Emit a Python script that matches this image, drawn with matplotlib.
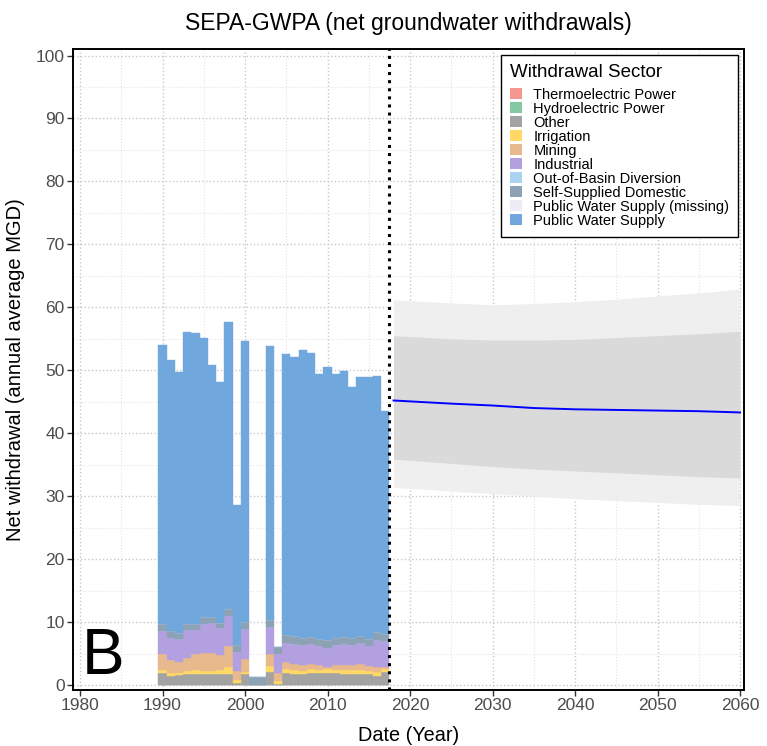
import numpy as np
import matplotlib
matplotlib.use("Agg")
import matplotlib.pyplot as plt
from matplotlib.patches import Patch
from matplotlib.ticker import MultipleLocator

plt.rcParams['font.family'] = ['Liberation Sans', 'DejaVu Sans']

# annual net groundwater withdrawals by sector (MGD)
years = list(range(1990, 2018))
thermo = [0.08] * 11 + [0, 0] + [0.08] * 15
hydro = [0.0] * 28
other = [1.85, 1.32, 1.48, 1.64, 1.64, 1.64, 1.74, 1.74, 1.74, 0.26, 1.64, 0, 0, 2.01,
         0.16, 1.85, 1.64, 1.64, 1.90, 1.85, 1.85, 1.85, 1.74, 1.74, 1.74, 1.64, 1.32, 2.01]
irrigation = [0.42, 0.53, 0.37, 0.53, 0.63, 0.53, 0.43, 0.53, 1.06, 0.43, 0.42, 0, 0, 0.90,
              0.42, 0.69, 0.63, 0.47, 0.64, 0.53, 0.63, 0.42, 0.53, 0.53, 0.53, 0.53, 0.69, 0.53]
mining = [2.64, 2.11, 1.74, 2.11, 2.54, 2.85, 2.85, 2.38, 3.28, 1.48, 2.06, 0, 0, 2.00,
          1.27, 1.05, 1.06, 0.95, 0.79, 0.68, 0.32, 0.79, 0.90, 0.79, 0.95, 0.74, 0.79, 0.26]
industrial = [3.60, 3.49, 3.65, 4.33, 3.91, 4.65, 4.75, 4.28, 4.86, 3.01, 4.75, 0, 0, 4.23,
              3.06, 3.01, 3.17, 3.17, 3.17, 3.02, 3.06, 3.17, 3.22, 3.17, 3.38, 3.17, 4.33, 4.12]
out_of_basin = [0.0] * 28
self_supplied = [1.05, 1.06, 1.00, 0.95, 0.84, 1.05, 0.95, 0.84, 1.10, 1.05, 1.06, 1.30, 1.30, 1.16,
                 1.06, 1.22, 1.16, 1.22, 1.05, 1.21, 1.27, 1.17, 1.16, 1.22, 1.06, 1.21, 1.22, 1.16]
pws_missing = [0.0] * 28
pws = [44.4, 43.1, 41.4, 46.5, 46.3, 44.4, 40.1, 38.3, 45.5, 22.3, 44.6, 0, 0, 43.5,
       0, 44.7, 44.4, 45.7, 45.1, 42.0, 43.3, 42.0, 42.3, 39.8, 41.2, 41.6, 40.6, 35.4]

# projection (mean with two uncertainty bands)
proj_years = [2018, 2025, 2030, 2035, 2040, 2045, 2050, 2055, 2060]
proj_mean = [45.2, 44.7, 44.4, 44.0, 43.8, 43.7, 43.6, 43.5, 43.3]
inner_lo = [35.9, 35.2, 34.7, 34.3, 34.0, 33.7, 33.4, 33.1, 32.9]
inner_hi = [55.5, 55.0, 54.8, 54.8, 54.9, 55.2, 55.5, 55.8, 56.2]
outer_lo = [31.4, 30.8, 30.4, 30.0, 29.6, 29.3, 29.0, 28.7, 28.5]
outer_hi = [61.2, 60.7, 60.4, 60.6, 60.9, 61.3, 61.8, 62.3, 62.9]
last_obs = 2017.5

sectors = ["Thermoelectric Power", "Hydroelectric Power", "Other", "Irrigation", "Mining",
           "Industrial", "Out-of-Basin Diversion", "Self-Supplied Domestic",
           "Public Water Supply (missing)", "Public Water Supply"]
series = [thermo, hydro, other, irrigation, mining, industrial, out_of_basin,
          self_supplied, pws_missing, pws]
colors = ["#F4978E", "#84C9A1", "#A3A3A3", "#FFD866", "#E7B98C", "#B3A0E0",
          "#A9D3F0", "#8DA2B4", "#ECECF6", "#70A8DE"]

fig = plt.figure(figsize=(7.67, 7.46), dpi=100)
ax = fig.add_axes([0.0952, 0.075, 0.875, 0.859])

ax.xaxis.set_major_locator(MultipleLocator(10))
ax.xaxis.set_minor_locator(MultipleLocator(5))
ax.yaxis.set_major_locator(MultipleLocator(10))
ax.yaxis.set_minor_locator(MultipleLocator(5))
ax.grid(which='major', color='#C8C8C8', linestyle=':', linewidth=1.0, zorder=0)
ax.grid(which='minor', color='#E4E4E4', linestyle=':', linewidth=0.8, zorder=0)
ax.set_axisbelow(True)

bottom = np.zeros(len(years))
for vals, c in zip(series, colors):
    v = np.array(vals)
    ax.bar(years, v, width=1.0, bottom=bottom, color=c, edgecolor=c,
           linewidth=0.3, zorder=2)
    bottom += v

ax.fill_between(proj_years, outer_lo, outer_hi, color='#EFEFEF', linewidth=0, zorder=1)
ax.fill_between(proj_years, inner_lo, inner_hi, color='#DADADA', linewidth=0, zorder=1)
ax.plot(proj_years, proj_mean, color='#0000FF', linewidth=1.4, zorder=3)
ax.axvline(last_obs, color='black', linestyle=':', linewidth=2.2, zorder=4)

ax.set_xlim(1979.15, 2060.5)
ax.set_ylim(-0.8, 101)
for s in ax.spines.values():
    s.set_linewidth(1.4)
    s.set_color('black')
ax.tick_params(which='major', direction='out', length=4, width=1, colors='#333333',
               labelsize=12.5, labelcolor='#4D4D4D', pad=2)
ax.tick_params(which='minor', length=0)

ax.set_title("SEPA-GWPA (net groundwater withdrawals)", fontsize=16.5, pad=14)
ax.set_xlabel("Date (Year)", fontsize=14.3, labelpad=9)
ax.set_ylabel("Net withdrawal (annual average MGD)", fontsize=14.5)
ax.yaxis.set_label_coords(-0.0715, 0.5)

ax.text(0.013, 0.005, "B", transform=ax.transAxes, fontsize=46, va='bottom', ha='left',
        zorder=5)

handles = [Patch(facecolor=c, edgecolor='none') for c in colors]
leg = ax.legend(handles, sectors, title="Withdrawal Sector", loc='upper right',
                bbox_to_anchor=(0.991, 0.9906), borderaxespad=0, fontsize=10.5,
                title_fontsize=13.5, frameon=True, fancybox=False, edgecolor='black',
                handlelength=0.8, handleheight=0.8, handletextpad=0.8, labelspacing=0.0,
                borderpad=0.6, framealpha=1)
leg.get_frame().set_linewidth(1.0)
leg._legend_box.align = "left"
leg._legend_box.sep = 5

fig.savefig("out.png", dpi=100)
